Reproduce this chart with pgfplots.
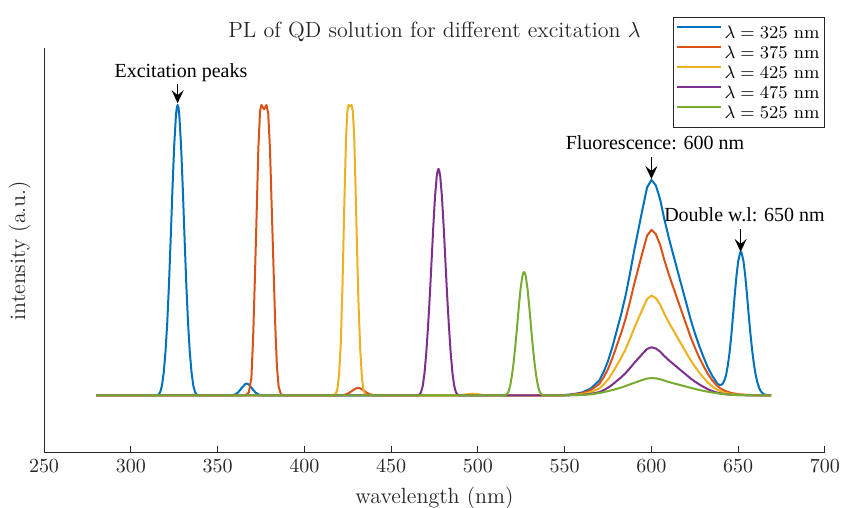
\documentclass[border=0pt]{standalone}
\usepackage{fontspec}
\newfontfamily\annfont{Liberation Serif}
\usepackage{pgfplots}
\pgfplotsset{compat=1.18}
\usepackage{pgfplotstable}
\usetikzlibrary{arrows.meta}

\definecolor{mblue}{rgb}{0,0.447,0.741}
\definecolor{morange}{rgb}{0.850,0.325,0.098}
\definecolor{myellow}{rgb}{0.929,0.694,0.125}
\definecolor{mpurple}{rgb}{0.494,0.184,0.556}
\definecolor{mgreen}{rgb}{0.466,0.674,0.188}
\definecolor{mgray}{rgb}{0.15,0.15,0.15}

% excitation 325 nm
\pgfplotstableread{
x y
280 0
315 0
316 0.003
317 0.012
318 0.035
319 0.080
320 0.150
321 0.249
322 0.381
323 0.540
324 0.707
325 0.857
326 0.962
326.5 0.990
327 1.000
327.5 0.990
328 0.962
329 0.857
330 0.707
331 0.540
332 0.381
333 0.249
334 0.150
335 0.080
336 0.035
337 0.012
338 0.003
339 0
358 0
360 0.003
362 0.0114
364 0.0265
366 0.0396
367 0.041
368 0.0378
370 0.0232
372 0.0092
374 0.0023
376 0
545 0
550 0.0015
555 0.0045
560 0.0104
565 0.0237
570 0.0519
572.5 0.0816
575 0.1187
577.5 0.1670
580 0.2226
582.5 0.2783
585 0.3413
587.5 0.4155
590 0.4971
592.5 0.5713
595 0.6455
597.5 0.7160
600 0.742
602.5 0.7235
605 0.6752
607.5 0.6047
610 0.5431
612.5 0.4860
615 0.4304
617.5 0.3747
620 0.3191
622.5 0.2634
625 0.2152
627.5 0.1707
630 0.1321
632.5 0.0965
635 0.068
637 0.050
638 0.041
639 0.037
640 0.036
641 0.040
642 0.051
643 0.070
644 0.103
645 0.147
646 0.205
647 0.274
648 0.346
649 0.412
650 0.462
651 0.490
651.5 0.495
652 0.490
653 0.463
654 0.415
655 0.350
656 0.280
657 0.215
658 0.158
659 0.110
660 0.073
661 0.046
662 0.027
663 0.015
664 0.008
665 0.004
666 0.002
667 0.001
669 0
}\blueexc

% excitation 375 nm
\pgfplotstableread{
x y
280 0
366 0
368 0.01
369.5 0.06
370.5 0.2
371.5 0.4
372.5 0.62
373.5 0.85
374.5 0.98
375.3 1.0
376.8 0.985
378.2 1.0
379.2 0.97
380.2 0.85
381.2 0.65
382.2 0.45
383.2 0.25
384.2 0.1
385.2 0.03
386.5 0.005
388 0
420 0
422 0.001
424 0.0035
426 0.0094
428 0.018
430 0.025
431 0.026
432 0.025
434 0.018
436 0.0094
438 0.0035
440 0.001
442 0
545 0
550 0.0011
555 0.0034
560 0.0080
565 0.0182
570 0.0399
572.5 0.0627
575 0.0912
577.5 0.1283
580 0.1710
582.5 0.2138
585 0.2622
587.5 0.3192
590 0.3819
592.5 0.4389
595 0.4959
597.5 0.5501
600 0.570
602.5 0.5558
605 0.5187
607.5 0.4646
610 0.4172
612.5 0.3734
615 0.3306
617.5 0.2879
620 0.2451
622.5 0.2024
625 0.1653
627.5 0.1311
630 0.1015
632.5 0.0741
635 0.0524
637.5 0.0353
640 0.0234
642.5 0.0154
645 0.0103
647.5 0.0068
650 0.0046
655 0.0020
660 0.0009
665 0.0003
669 0
}\orangeexc

% excitation 425 nm
\pgfplotstableread{
x y
280 0
416 0
418 0.005
419 0.02
420 0.07
421 0.18
422 0.38
423 0.65
424 0.88
424.8 0.98
425.5 1.0
426.3 0.995
427.2 1.0
427.9 0.98
428.7 0.9
429.5 0.72
430.3 0.52
431.2 0.32
432.2 0.16
433.2 0.06
434.2 0.015
435.5 0
488 0
492 0.0025
495 0.005
497 0.006
499 0.005
502 0.0025
506 0
545 0
550 0.0007
555 0.0021
560 0.0048
565 0.0110
570 0.0241
572.5 0.0378
575 0.0550
577.5 0.0774
580 0.1032
582.5 0.1290
585 0.1582
587.5 0.1926
590 0.2305
592.5 0.2649
595 0.2993
597.5 0.3320
600 0.344
602.5 0.3354
605 0.3130
607.5 0.2804
610 0.2518
612.5 0.2253
615 0.1995
617.5 0.1737
620 0.1479
622.5 0.1221
625 0.0998
627.5 0.0791
630 0.0612
632.5 0.0447
635 0.0316
637.5 0.0213
640 0.0141
642.5 0.0093
645 0.0062
647.5 0.0041
650 0.0028
655 0.0012
660 0.0005
669 0
}\yellowexc

% excitation 475 nm
\pgfplotstableread{
x y
280 0
465.3 0
466.3 0.003
467.3 0.012
468.3 0.035
469.3 0.080
470.3 0.150
471.3 0.239
472.3 0.343
473.3 0.461
474.3 0.580
475.3 0.684
476.3 0.755
476.8 0.7725
477.3 0.78
477.8 0.7725
478.3 0.755
479.3 0.684
480.3 0.580
481.3 0.461
482.3 0.343
483.3 0.239
484.3 0.150
485.3 0.080
486.3 0.035
487.3 0.012
488.3 0.003
489.3 0
545 0
550 0.0003
555 0.0010
560 0.0023
565 0.0053
570 0.0116
572.5 0.0183
575 0.0266
577.5 0.0374
580 0.0498
582.5 0.0623
585 0.0764
587.5 0.0930
590 0.1112
592.5 0.1278
595 0.1444
597.5 0.1602
600 0.166
602.5 0.1619
605 0.1511
607.5 0.1353
610 0.1215
612.5 0.1087
615 0.0963
617.5 0.0838
620 0.0714
622.5 0.0589
625 0.0481
627.5 0.0382
630 0.0295
632.5 0.0216
635 0.0153
637.5 0.0103
640 0.0068
642.5 0.0045
645 0.0030
647.5 0.0020
650 0.0013
655 0.0006
669 0
}\purpleexc

% excitation 525 nm
\pgfplotstableread{
x y
280 0
515.6 0
516.6 0.004
517.6 0.013
518.6 0.033
519.6 0.068
520.6 0.114
521.6 0.171
522.6 0.237
523.6 0.306
524.6 0.367
525.6 0.410
526.1 0.421
526.6 0.425
527.1 0.421
527.6 0.410
528.6 0.367
529.6 0.306
530.6 0.237
531.6 0.171
532.6 0.114
533.6 0.068
534.6 0.033
535.6 0.013
536.6 0.004
537.6 0
542.5 0.0001
548.25 0.0004
554 0.0008
559.75 0.0019
565.5 0.0042
571.25 0.0096
577 0.0180
579.9 0.0225
582.75 0.0276
585.6 0.0336
588.5 0.0402
591.4 0.0462
594.25 0.0522
597.1 0.0579
600 0.060
602.9 0.0585
605.75 0.0546
608.6 0.0489
611.5 0.0439
614.4 0.0393
617.25 0.0348
620.1 0.0303
623 0.0258
625.9 0.0213
628.75 0.0174
631.6 0.0138
634.5 0.0107
640.25 0.0055
646 0.0025
651.75 0.0011
657.5 0.0005
669 0.0001
}\greenexc

\begin{document}
\begin{tikzpicture}
\useasboundingbox (-22pt,-27.5pt) rectangle (399pt,226.5pt);
\begin{axis}[
  at={(0,0)}, anchor=south west,
  width=390.5pt, height=202.5pt, scale only axis,
  xmin=250, xmax=700, ymin=-0.198, ymax=1.196,
  axis x line*=bottom, axis y line*=left,
  xtick={250,300,...,700}, ytick=\empty,
  tick align=inside, major tick length=3.5pt,
  axis line style={mgray, line width=0.5pt},
  every tick/.style={mgray, line width=0.5pt},
  tick label style={font=\fontsize{10}{12}\selectfont, text=mgray},
  xlabel={wavelength (nm)}, ylabel={intensity (a.u.)},
  label style={font=\fontsize{11}{13}\selectfont, text=mgray},
  ylabel style={at={(axis description cs:-0.008,0.5)}, anchor=south},
  legend cell align=left,
  legend style={at={(1.0,0.8025)}, anchor=south east, draw=mgray,
    font=\fontsize{9}{11}\selectfont, inner xsep=1pt, inner ysep=2.5pt, row sep=0pt,
    nodes={inner xsep=1.5pt, inner ysep=1.75pt, text height=6.3pt, text depth=0.2pt}},
  legend image code/.code={\draw[#1] (0pt,2.6pt) -- (22pt,2.6pt);},
  clip=false,
  every axis plot/.append style={line width=1pt, line join=round},
]
\addplot[mblue] table {\blueexc};
\addplot[morange] table {\orangeexc};
\addplot[myellow] table {\yellowexc};
\addplot[mpurple] table {\purpleexc};
\addplot[mgreen] table {\greenexc};
\legend{$\lambda = 325$ nm, $\lambda = 375$ nm, $\lambda = 425$ nm, $\lambda = 475$ nm, $\lambda = 525$ nm}

\node[anchor=base, yshift=5pt, font=\fontsize{11}{13}\selectfont, text=mgray] at (rel axis cs:0.5,1) {PL of QD solution for different excitation $\lambda$};
\node[font=\annfont\fontsize{10}{12}\selectfont, anchor=base] at (axis cs:328.9,1.093) {Excitation peaks};
\node[font=\annfont\fontsize{10}{12}\selectfont, anchor=base] at (axis cs:602,0.845) {Fluorescence: 600 nm};
\node[font=\annfont\fontsize{10}{12}\selectfont, anchor=base] at (axis cs:653.6,0.598) {Double w.l: 650 nm};
\draw[-{Stealth[length=6.5pt,width=6pt,inset=2.5pt]}, line width=0.75pt] (axis cs:327,1.072) -- (axis cs:327,1.006);
\draw[-{Stealth[length=6.5pt,width=6pt,inset=2.5pt]}, line width=0.75pt] (axis cs:600,0.821) -- (axis cs:600,0.745);
\draw[-{Stealth[length=6.5pt,width=6pt,inset=2.5pt]}, line width=0.75pt] (axis cs:651.4,0.573) -- (axis cs:651.4,0.494);
\end{axis}
\end{tikzpicture}
\end{document}
